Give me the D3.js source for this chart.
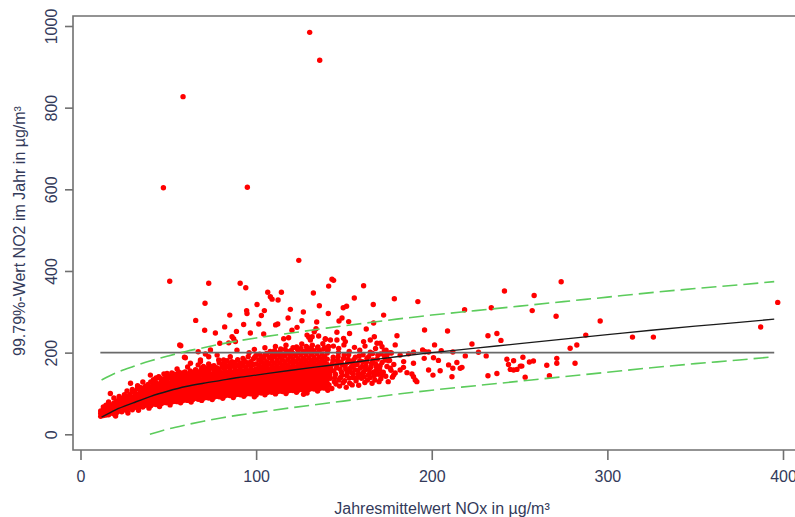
<!DOCTYPE html>
<html><head><meta charset="utf-8">
<script src="https://cdn.jsdelivr.net/npm/d3@7"></script>
<style>html,body{margin:0;padding:0;background:#fff;}svg{display:block;font-family:"Liberation Sans",Arial,sans-serif;}</style>
</head><body>
<svg id="chart" width="795" height="517"></svg>
<script>
// ---------- DATA ----------
const xTicks = [0, 100, 200, 300, 400];
const yTicks = [0, 200, 400, 600, 800, 1000];
const xTitle = "Jahresmittelwert NOx in µg/m³";
const yTitle = "99.79%-Wert NO2 im Jahr in µg/m³";

// Isolated points [NOx, NO2]
const outliers = [
[130.5,984.5],[136.2,916],[58.4,827],[47.2,604],[95,605],[124.3,426],
[50.8,374.7],[73,369.8],[90.9,369.8],[94.1,359],[143.2,380],[144.1,377],[161.2,364],[141.3,363],[106.6,347.8],[114.4,347.8],[108.1,337],[109.1,331],[112.5,329],[132.6,346],[70.9,321],[100.5,318],[155.9,334],[136,315],[166.7,318],[178.7,332],[94.6,303],[94.8,296],[104.7,303],[119.5,306],[126.9,299.5],[149.6,310],[151.5,313.5],[85,292],[103,291],[118.2,285],[141.1,296],[172.6,292],[65.6,279],[126.1,278],[134.5,275],[147.2,277.5],[148.9,285],[152.7,276],[92.9,269],[101.5,270],[111.1,268],[112.3,270],[82.1,263],[166.9,272.6],[70.7,255],[76.8,248],[88.8,252],[96.7,248],[104.3,245.6],[120.4,255],[123.3,262],[134.1,258.6],[133.1,251],[146,250],[162.7,258],[153.2,247],[86.3,239],[87.2,234],[115.7,234],[118.5,236.6],[129,243],[130,237.6],[135.6,240.7],[139.4,234],[180.2,241.5],[167.3,239],
[192.1,325],[241.4,351],[258.3,340],[273.7,373.7],[257.2,303],[270.8,289],[233.9,310],[218.7,305],[195.9,255.4],[209,253],[232,241.5],[237.1,247],[239.4,230],[222.9,221],[170.7,223],[179.2,219],[201.6,219],[173,204],[176.4,200],[189.6,201],[194.8,206.5],[196.3,202],[198.2,201.6],[182,194],[186.8,197],[205.4,204.7],[212,201.6],[226.6,201],[278.8,210.6],[282.6,218.7],[219.1,192],[231,192],[173.5,182],[175.4,180],[195.7,186],[201,187.6],[203.8,181],[184,178],[189.6,174],[209.6,170],[214.3,176],[216.2,161.6],[242.8,183.7],[246.6,180],[251.9,188.6],[255.6,177],[257.9,179.5],[271.2,186],[243.7,171],[250.4,167],[265.5,169],[271.2,174],[281.6,174],[176.4,161.6],[182,157.5],[183.9,164],[185.9,151],[188.7,147.7],[189.6,141],[190.6,133],[191.5,129],[198.2,157.5],[204.8,155.8],[212,161.6],[211.5,141],[217.2,164],[200.7,145],[178.3,145],[171.7,145],[244.7,159],[246.6,157.5],[248.5,159],[251.3,167],[232,143.5],[237.1,149],[253.2,140],[267,143.5],[397,323],[387.3,262.8],[295.9,277.5],[314.3,238],[326.2,238],[287.7,243]
];

// Points just above the dense cloud [NOx, NO2]
const upperScatter = [
[56.5,218.7],[59.2,188.6],[67,202],[71.1,196.7],[74,206.5],[79.3,223],[84.4,224],[62.6,174],[68.3,178],[73,165.6],[77.8,194],[81.5,182],[85.3,190],[89.1,206],[39.8,145],[44.6,141],[49.3,149],[55.9,153],[28.5,125],[17,100],[88.2,227],[130.9,231],[131.9,239],[139.4,232.6],[142.3,231],[146,231],[149.8,235],[150.8,227],[161.2,227],[165,231],[168.8,223],[171.7,214.6],[174.5,194],[57.1,217],[59.7,187.6],[68.3,182],[73,190],[78.7,182],
[96,200],[99,208],[102,196],[105,212],[108,203],[111,215],[114,209],[117,218],[120,205],[123,214],[126,221],[129,208],[132,218],[135,212],[138,222],[141,207],[144,216],[147,210],[150,219],[153,203],[156,213],[159,206],[162,216],[165,201],[168,210],[171,197],[174,206],[177,199],
[42,131],[45.5,137],[48.3,128],[51.2,142],[54,139],[57.3,147],[60.1,143],[63,152],[66.2,149],[69,161],[72.4,156],[75,166],[78.1,160],[81,172],[83.9,167],[86.2,178],[90.3,171],[93.1,181],[96.7,176],[99.2,189],[102.6,184],[105.1,195],[108.7,189],[111.3,199],[114.2,193],[117.6,203],[120.1,197],[123.5,208],[126.8,203],[129.3,212],[132.4,205],[135.2,214],[138.5,209],[141.2,215]
];

// Points along the lower edge of the cloud [NOx, NO2]
const lowerScatter = [
[20,45],[27,52],[33,59],[39,64],[45,68],[51,72],[57,77],[63,79],[69,83],[75,85],[81,88],[87,90],[93,93],[99,92],[105,97],[111,99],[117,100],[123,103],[129,101],[135,106],[127,98]
];

// Thinning part of the cloud, 141–180 [NOx, NO2]
const cloudTail = [
[141.5,121],[142.3,137],[142.8,156],[143.4,172],[143.9,189],[144.6,129],[145.2,147],[145.8,163],[146.3,181],[146.9,200],[147.5,118],[148.1,139],[148.6,152],[149.2,170],[149.8,186],[150.4,131],[151,160],[151.5,144],[152.1,176],[152.7,195],[153.3,125],[153.8,152],[154.4,166],[155,139],[155.6,183],[156.2,158],[156.9,131],[157.5,171],[158.1,146],[158.7,192],[159.3,162],[160,137],[160.6,178],[161.2,152],[161.9,127],[162.5,168],[163.1,186],[163.8,145],[164.4,159],[165,139],[165.7,174],[166.3,198],[167,153],[167.6,133],[168.3,166],[169,184],[169.6,147],[170.3,160],[171,136],[171.7,176],[172.4,152],[173.1,191],[173.8,142],[174.5,166],[175.2,129],[176,181],[176.8,157],[177.6,140],[178.4,171],[179.2,150],
[140.8,108],[141.9,146],[142.5,165],[143.1,112],[143.7,181],[144.2,155],[144.9,139],[145.5,123],[146.1,171],[146.7,190],[147.2,133],[147.8,160],[148.4,177],[149,145],[149.5,126],[150.1,194],[150.7,168],[151.3,115],[151.8,153],[152.4,184],[153,138],[153.6,162],[154.1,178],[154.7,121],[155.3,148],[155.9,170],[156.5,189],[157.2,138],[157.8,156],[158.4,120],[159,180],[159.6,148],[160.3,166],[160.9,195],[161.5,141],[162.2,158],[162.8,177],[163.4,133],[164.1,190],[164.7,150],[165.3,165],[166,125],[166.6,182],[167.3,144],[168,172],[168.6,157],[169.3,194],[170,129],[170.6,168],[171.3,150]
];

// Dense cloud, one entry per NOx value: [NOx, NO2 values...]
const cloudCols = [
[11.5,44,51,57],[13,46,54,59,67],[14.5,47,51,60,63,71],[16,48,57,61,70,79],[17.5,52,57,67,72],
[19,50,58,62,72,76,89],[20.5,53,63,66,77,81],[22,57,60,71,75,87,93],[23.5,55,66,70,82,88],[25,60,64,75,79,90,97],
[26.5,58,70,74,86,91,106],[28,64,68,80,84,97],[29.5,60,71,75,87,91,104,110],[31,66,72,83,88,100,105],[32.5,65,76,80,92,97,112,119],
[34,68,76,85,94,103,115],[35.5,67,77,86,95,104,113,128],[37,71,80,89,98,108,118],[38.5,72,81,90,100,110,122],[40,70,79,88,97,106,116,128],
[41.5,74,83,92,101,111,121,134],[43,73,82,91,100,109,118,127,138],[44.5,76,85,95,104,113,123,140],[46,75,84,93,102,111,120,130],[47.5,78,87,96,105,115,125,136,148],
[49,77,86,95,104,113,122,132,144],[50.5,80,89,98,107,116,126,138],[52,79,88,97,106,115,124,134,150],[53.5,81,90,99,108,117,127,137,147],[55,80,89,98,107,116,125,135,146,160],
[56.5,83,92,101,110,119,129,140],[58,82,91,100,109,118,127,137,150],[59.5,84,93,102,111,120,130,141,153],[61,83,92,101,110,119,128,138,148,165],[62.5,86,95,104,113,122,131,142,155],
[64,85,94,103,112,121,130,140,151],[65.5,88,97,106,115,124,133,144,158],[67,86,95,104,113,122,131,141,152,170],[68.5,89,98,107,116,125,134,145,157],[70,88,97,106,115,124,133,143,154,166],
[71.5,90,99,108,117,126,135,146,160],[73,89,98,107,116,125,134,144,155,172],[74.5,92,101,110,119,128,137,148,162],[76,91,100,109,118,127,136,146,157,168],[77.5,93,102,111,120,129,138,149,163],
[79,92,101,110,119,128,137,147,158,175],[80.5,95,104,113,122,131,140,151,165],[82,94,103,112,121,130,139,149,160,171],[83.5,96,105,114,123,132,141,152,166,180],[85,95,104,113,122,131,140,150,161,173],
[86.5,97,106,115,124,133,142,153,167],[88,96,105,114,123,132,141,151,162,176],[89.5,98,107,116,125,134,143,154,168,183],[91,97,106,115,124,133,142,152,163,175],[92.5,99,108,117,126,135,144,155,169,186],
[94,98,107,116,125,134,143,153,164,177],[95.5,100,109,118,127,136,145,156,170,190],[97,99,108,117,126,135,144,154,165,178],[98.5,101,110,119,128,137,146,157,171,185],[100,96,105,114,123,132,141,150,160,172,193],
[101.5,102,111,120,129,138,147,158,170,182],[103,101,110,119,128,137,146,155,165,177,190],[104.5,103,112,121,130,139,148,159,172,186],[106,102,111,120,129,138,147,156,166,178,198],[107.5,104,113,122,131,140,149,160,173,188],
[109,103,112,121,130,139,148,157,167,180,194],[110.5,105,114,123,132,141,150,161,174,190,205],[112,104,113,122,131,140,149,158,168,181,196],[113.5,106,115,124,133,142,151,162,175,189,202],[115,105,114,123,132,141,150,159,169,182,197],
[116.5,107,116,125,134,143,152,163,176,192,208],[118,106,115,124,133,142,151,160,170,183,199],[119.5,108,117,126,135,144,153,164,177,191,204],[121,107,116,125,134,143,152,161,171,184,198,212],[122.5,109,118,127,136,145,154,165,178,193],
[124,108,117,126,135,144,153,162,172,185,200],[125.5,110,119,128,137,146,155,166,179,194,210],[127,109,118,127,136,145,154,163,173,186,201],[128.5,111,120,129,138,147,156,167,180,195,215],[130,110,119,128,137,146,155,164,174,187,203],
[131.5,112,121,130,139,148,157,168,181,196,209],[133,111,120,129,138,147,156,165,175,188,204],[134.5,113,122,131,140,149,158,169,182,198],[136,112,121,130,139,148,157,166,176,189,206],[137.5,114,123,132,141,150,159,170,183,197],
[139,113,122,131,140,149,158,167,177,190,212],[140.5,116,125,134,143,152,161,171,184,199]
];

// Fitted curve and dashed band
const fitX   = [12,20,30,40,50,60,70,80,90,100,120,140,160,180,200,225,250,275,300,325,350,375,395];
const fitY   = [42,60,77,93,106,117,125,132,139,145,157,168,179,190,200,211,222,233,244,255,265,274,282];
const upperY = [133,150,166,180,192,203,212,221,229,236,248,260,271,282,292,303,314,325,336,347,357,366,374];
const lowerX = [39.5,45,50,60,70,80,90,100,120,140,160,180,200,225,250,275,300,325,350,375,395];
const lowerY = [0,7,13,23,32,40,47,53,65,76,87,98,108,119,130,141,152,163,173,182,190];
const limitX = [11.3, 395];
const limitY = 200;

// ---------- CHART ----------
const svg = d3.select("#chart");
const textCol = "#333a5a";
const axisCol = "#707070";
const x = d3.scaleLinear().domain([0,400]).range([80.5,783]);
const y = d3.scaleLinear().domain([0,1000]).range([434.3,26]);
const pLeft = 73, pTop = 16, pBottom = 450, pRight = 798;

svg.append("rect").attr("width",795).attr("height",517).attr("fill","#fff");

// points
const pts = [];
cloudCols.forEach(c => { for (let i = 1; i < c.length; i++) pts.push([c[0], c[i]]); });
[cloudTail, lowerScatter, upperScatter, outliers].forEach(arr => arr.forEach(p => pts.push(p)));
svg.append("g").selectAll("circle").data(pts).join("circle")
  .attr("cx", d => x(d[0])).attr("cy", d => y(d[1])).attr("r", 2.7).attr("fill", "#ff0000");

// lines
const line = d3.line().x(d => x(d[0])).y(d => y(d[1])).curve(d3.curveMonotoneX);
svg.append("path").attr("d", line(limitX.map(v => [v, limitY])))
  .attr("fill","none").attr("stroke","#6a6a6a").attr("stroke-width",1.8);
svg.append("path").attr("d", line(fitX.map((v,i) => [v, upperY[i]])))
  .attr("fill","none").attr("stroke","#5ccc5c").attr("stroke-width",1.6).attr("stroke-dasharray","15,6");
svg.append("path").attr("d", line(lowerX.map((v,i) => [v, lowerY[i]])))
  .attr("fill","none").attr("stroke","#5ccc5c").attr("stroke-width",1.6).attr("stroke-dasharray","15,6");
svg.append("path").attr("d", line(fitX.map((v,i) => [v, fitY[i]])))
  .attr("fill","none").attr("stroke","#1a1a1a").attr("stroke-width",1.4);

// box
svg.append("path").attr("d", `M${pRight},${pTop}H${pLeft}V${pBottom}H${pRight}`)
  .attr("fill","none").attr("stroke",axisCol).attr("stroke-width",1.6);

// axes
const gx = svg.append("g").attr("transform", `translate(0,${pBottom})`)
  .call(d3.axisBottom(x).tickValues(xTicks).tickSize(10).tickFormat(d3.format("d")));
gx.select(".domain").remove();
gx.selectAll("line").attr("stroke",axisCol).attr("stroke-width",1.6);
gx.selectAll("text").attr("y",21).attr("dy","0.71em").attr("fill",textCol)
  .attr("font-size",16).attr("font-family","Liberation Sans, Arial, sans-serif");

const gy = svg.append("g").attr("transform", `translate(${pLeft},0)`)
  .call(d3.axisLeft(y).tickValues(yTicks).tickSize(8).tickFormat(d3.format("d")));
gy.select(".domain").remove();
gy.selectAll("line").attr("stroke",axisCol).attr("stroke-width",1.6);
gy.selectAll("text").attr("x",0).attr("y",-22).attr("dy","0.35em")
  .attr("transform","rotate(-90)").attr("text-anchor","middle").attr("fill",textCol)
  .attr("font-size",16).attr("font-family","Liberation Sans, Arial, sans-serif");

// titles
svg.append("text").attr("x",442).attr("y",514).attr("text-anchor","middle")
  .attr("font-size",16).attr("fill",textCol).text(xTitle);
svg.append("text").attr("transform","translate(19,231) rotate(-90)").attr("dy","0.35em")
  .attr("text-anchor","middle").attr("font-size",16).attr("fill",textCol).text(yTitle);
</script>
</body></html>
